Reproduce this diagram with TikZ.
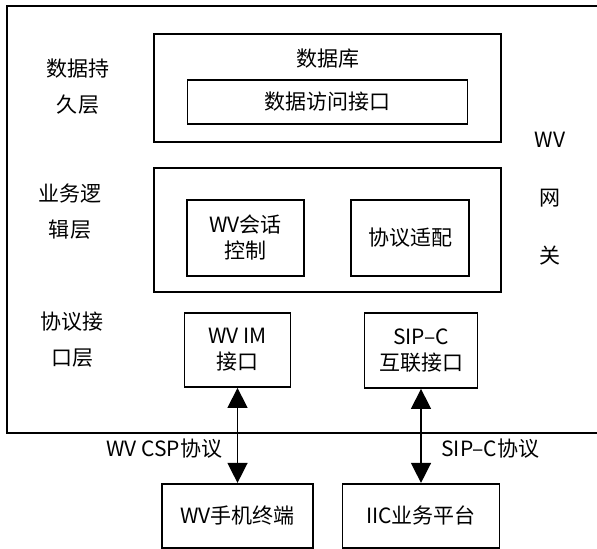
\documentclass[tikz,border=0pt]{standalone}
\usepackage{fontspec}
\newfontfamily\cjk{Noto Sans CJK SC}
\usetikzlibrary{arrows.meta,positioning}

\begin{document}
\begin{tikzpicture}[
  x=1pt, y=1pt,
  font=\cjk\fontsize{10.5}{13}\selectfont,
  box/.style={draw, line width=0.9pt, align=center, inner sep=2pt},
  layer/.style={align=center, font=\cjk\fontsize{10.5}{18}\selectfont},
  arr/.style={{Triangle[length=10pt,width=10pt]}-{Triangle[length=10pt,width=10pt]}, line width=0.7pt},
  lab/.style={font=\cjk\fontsize{10.5}{12}\selectfont}
]
\useasboundingbox (0,0) rectangle (298.5,-274.5);

% Gateway frame (right side runs off the page)
\node[box, minimum width=301.5pt, minimum height=213.5pt] (gw) at (154.25,-109.75) {};

% Data persistence layer
\node[box, minimum width=173.5pt, minimum height=54pt] (db) at (163.75,-44) {};
\node (dbtitle) at ([yshift=-12.5pt]db.north) {数据库};
\node[box, minimum width=140pt, minimum height=22pt, below=23pt of db.north] (dao) {数据访问接口};

% Business logic layer
\node[box, minimum width=173.5pt, minimum height=62pt, below=12pt of db] (biz) {};
\node[box, minimum width=58.5pt, minimum height=38pt, below right=16pt and 16.5pt of biz.north west] (sess) {WV会话\\控制};
\node[box, minimum width=59pt, minimum height=38pt, below left=16pt and 16pt of biz.north east] (adapt) {协议适配};

% Protocol interface layer
\node[box, minimum width=53pt, minimum height=37pt] (wvim) at (118.75,-175) {WV IM\\接口};
\node[box, minimum width=56.5pt, minimum height=37.5pt] (sipc) at (210.5,-175.25) {SIP–C\\互联接口};

% Outside the gateway
\node[box, minimum width=75.5pt, minimum height=32pt, below=47.5pt of wvim] (term) {WV手机终端};
\node[box, minimum width=78.5pt, minimum height=32pt, below=47pt of sipc] (iic) {IIC业务平台};

% Layer names
\node[layer] (persist) at (39,-43.5) {数据持\\久层};
\node[layer] (logic) at (35,-105.75) {业务逻\\辑层};
\node[layer] (proto) at (36,-170) {协议接\\口层};
\node[align=center, font=\cjk\fontsize{10.5}{29}\selectfont] (gwname) at (275,-99.25) {WV\\网\\关};

% Links
\draw[arr] (wvim) -- node[lab, pos=0.64, left=4pt] {WV CSP协议} (term);
\draw[arr] (sipc) -- node[lab, pos=0.64, right=6.5pt] {SIP–C协议} (iic);

\end{tikzpicture}
\end{document}
